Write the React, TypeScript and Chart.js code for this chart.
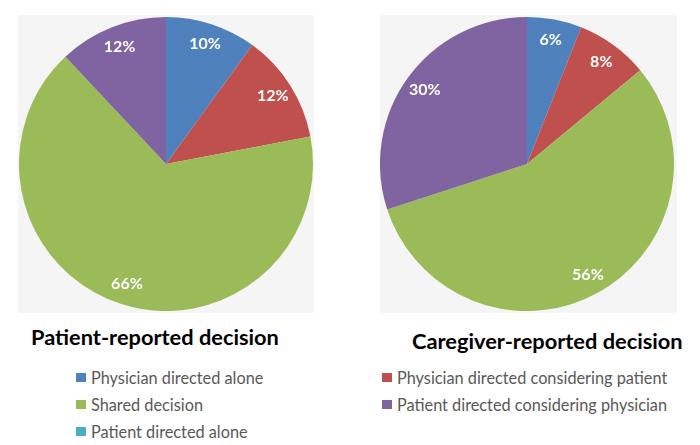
import React, { useEffect, useRef } from "react";
import { Chart, registerables } from "chart.js";

Chart.register(...registerables);

const categories = [
  "Physician directed alone",
  "Physician directed considering patient",
  "Shared decision",
  "Patient directed considering physician",
  "Patient directed alone",
];
const colors = ["#4f81bd", "#c0504d", "#9bbb59", "#8064a2", "#4bacc6"];
const patientValues = [10, 12, 66, 12, 0];
const caregiverValues = [6, 8, 56, 30, 0];
const patientTitle = "Patient-reported decision";
const caregiverTitle = "Caregiver-reported decision";

const FONT = "Lato, 'Open Sans', sans-serif";

const labelPlugin = {
  id: "pieLabels",
  afterDatasetsDraw(chart: any) {
    const ctx = chart.ctx;
    const meta = chart.getDatasetMeta(0);
    const data = chart.data.datasets[0].data as number[];
    ctx.save();
    ctx.fillStyle = "#ffffff";
    ctx.font = `bold 16px ${FONT}`;
    ctx.textAlign = "center";
    ctx.textBaseline = "middle";
    meta.data.forEach((arc: any, i: number) => {
      const v = data[i];
      if (!v) return;
      const p = arc.getProps(["x", "y", "startAngle", "endAngle", "outerRadius"], true);
      const mid = (p.startAngle + p.endAngle) / 2;
      const r = p.outerRadius * 0.86;
      ctx.fillText(v + "%", p.x + Math.cos(mid) * r, p.y + Math.sin(mid) * r);
    });
    ctx.restore();
  },
};

function Pie({ values }: { values: number[] }) {
  const ref = useRef<HTMLCanvasElement | null>(null);
  useEffect(() => {
    if (!ref.current) return;
    const chart = new Chart(ref.current, {
      type: "pie",
      data: {
        labels: categories,
        datasets: [
          {
            data: values,
            backgroundColor: colors,
            borderWidth: 0,
          },
        ],
      },
      options: {
        animation: false,
        responsive: false,
        maintainAspectRatio: false,
        layout: { padding: 0 },
        plugins: {
          legend: { display: false },
          tooltip: { enabled: false },
          title: { display: false },
        },
      },
      plugins: [labelPlugin],
    });
    return () => chart.destroy();
  }, [values]);
  return <canvas ref={ref} width={294} height={294} style={{ width: 294, height: 294 }} />;
}

function LegendItem({ i, x, y }: { i: number; x: number; y: number }) {
  return (
    <div
      style={{
        position: "absolute",
        left: x,
        top: y - 11,
        height: 22,
        display: "flex",
        alignItems: "center",
        whiteSpace: "nowrap",
        fontFamily: FONT,
        fontSize: 16.3,
        color: "#595959",
      }}
    >
      <span
        style={{
          display: "inline-block",
          width: 10,
          height: 9,
          background: colors[i],
          marginRight: 5,
        }}
      />
      {categories[i]}
    </div>
  );
}

const titleStyle: React.CSSProperties = {
  position: "absolute",
  fontFamily: FONT,
  fontWeight: 700,
  fontSize: 21.8,
  color: "#000",
  whiteSpace: "nowrap",
};

export default function App() {
  return (
    <div
      style={{
        position: "absolute",
        left: 0,
        top: 0,
        width: 700,
        height: 445,
        background: "#ffffff",
        overflow: "hidden",
      }}
    >
      <div style={{ position: "absolute", left: 18, top: 15, width: 296, height: 298, background: "#f5f5f5" }} />
      <div style={{ position: "absolute", left: 380, top: 15, width: 297, height: 298, background: "#f5f5f5" }} />
      <div style={{ position: "absolute", left: 19, top: 17 }}>
        <Pie values={patientValues} />
      </div>
      <div style={{ position: "absolute", left: 380, top: 17 }}>
        <Pie values={caregiverValues} />
      </div>
      <div style={{ ...titleStyle, left: 31, top: 323 }}>{patientTitle}</div>
      <div style={{ ...titleStyle, left: 412, top: 327 }}>{caregiverTitle}</div>
      <LegendItem i={0} x={76} y={377} />
      <LegendItem i={1} x={382} y={377} />
      <LegendItem i={2} x={76} y={404} />
      <LegendItem i={3} x={382} y={404} />
      <LegendItem i={4} x={76} y={431} />
    </div>
  );
}
